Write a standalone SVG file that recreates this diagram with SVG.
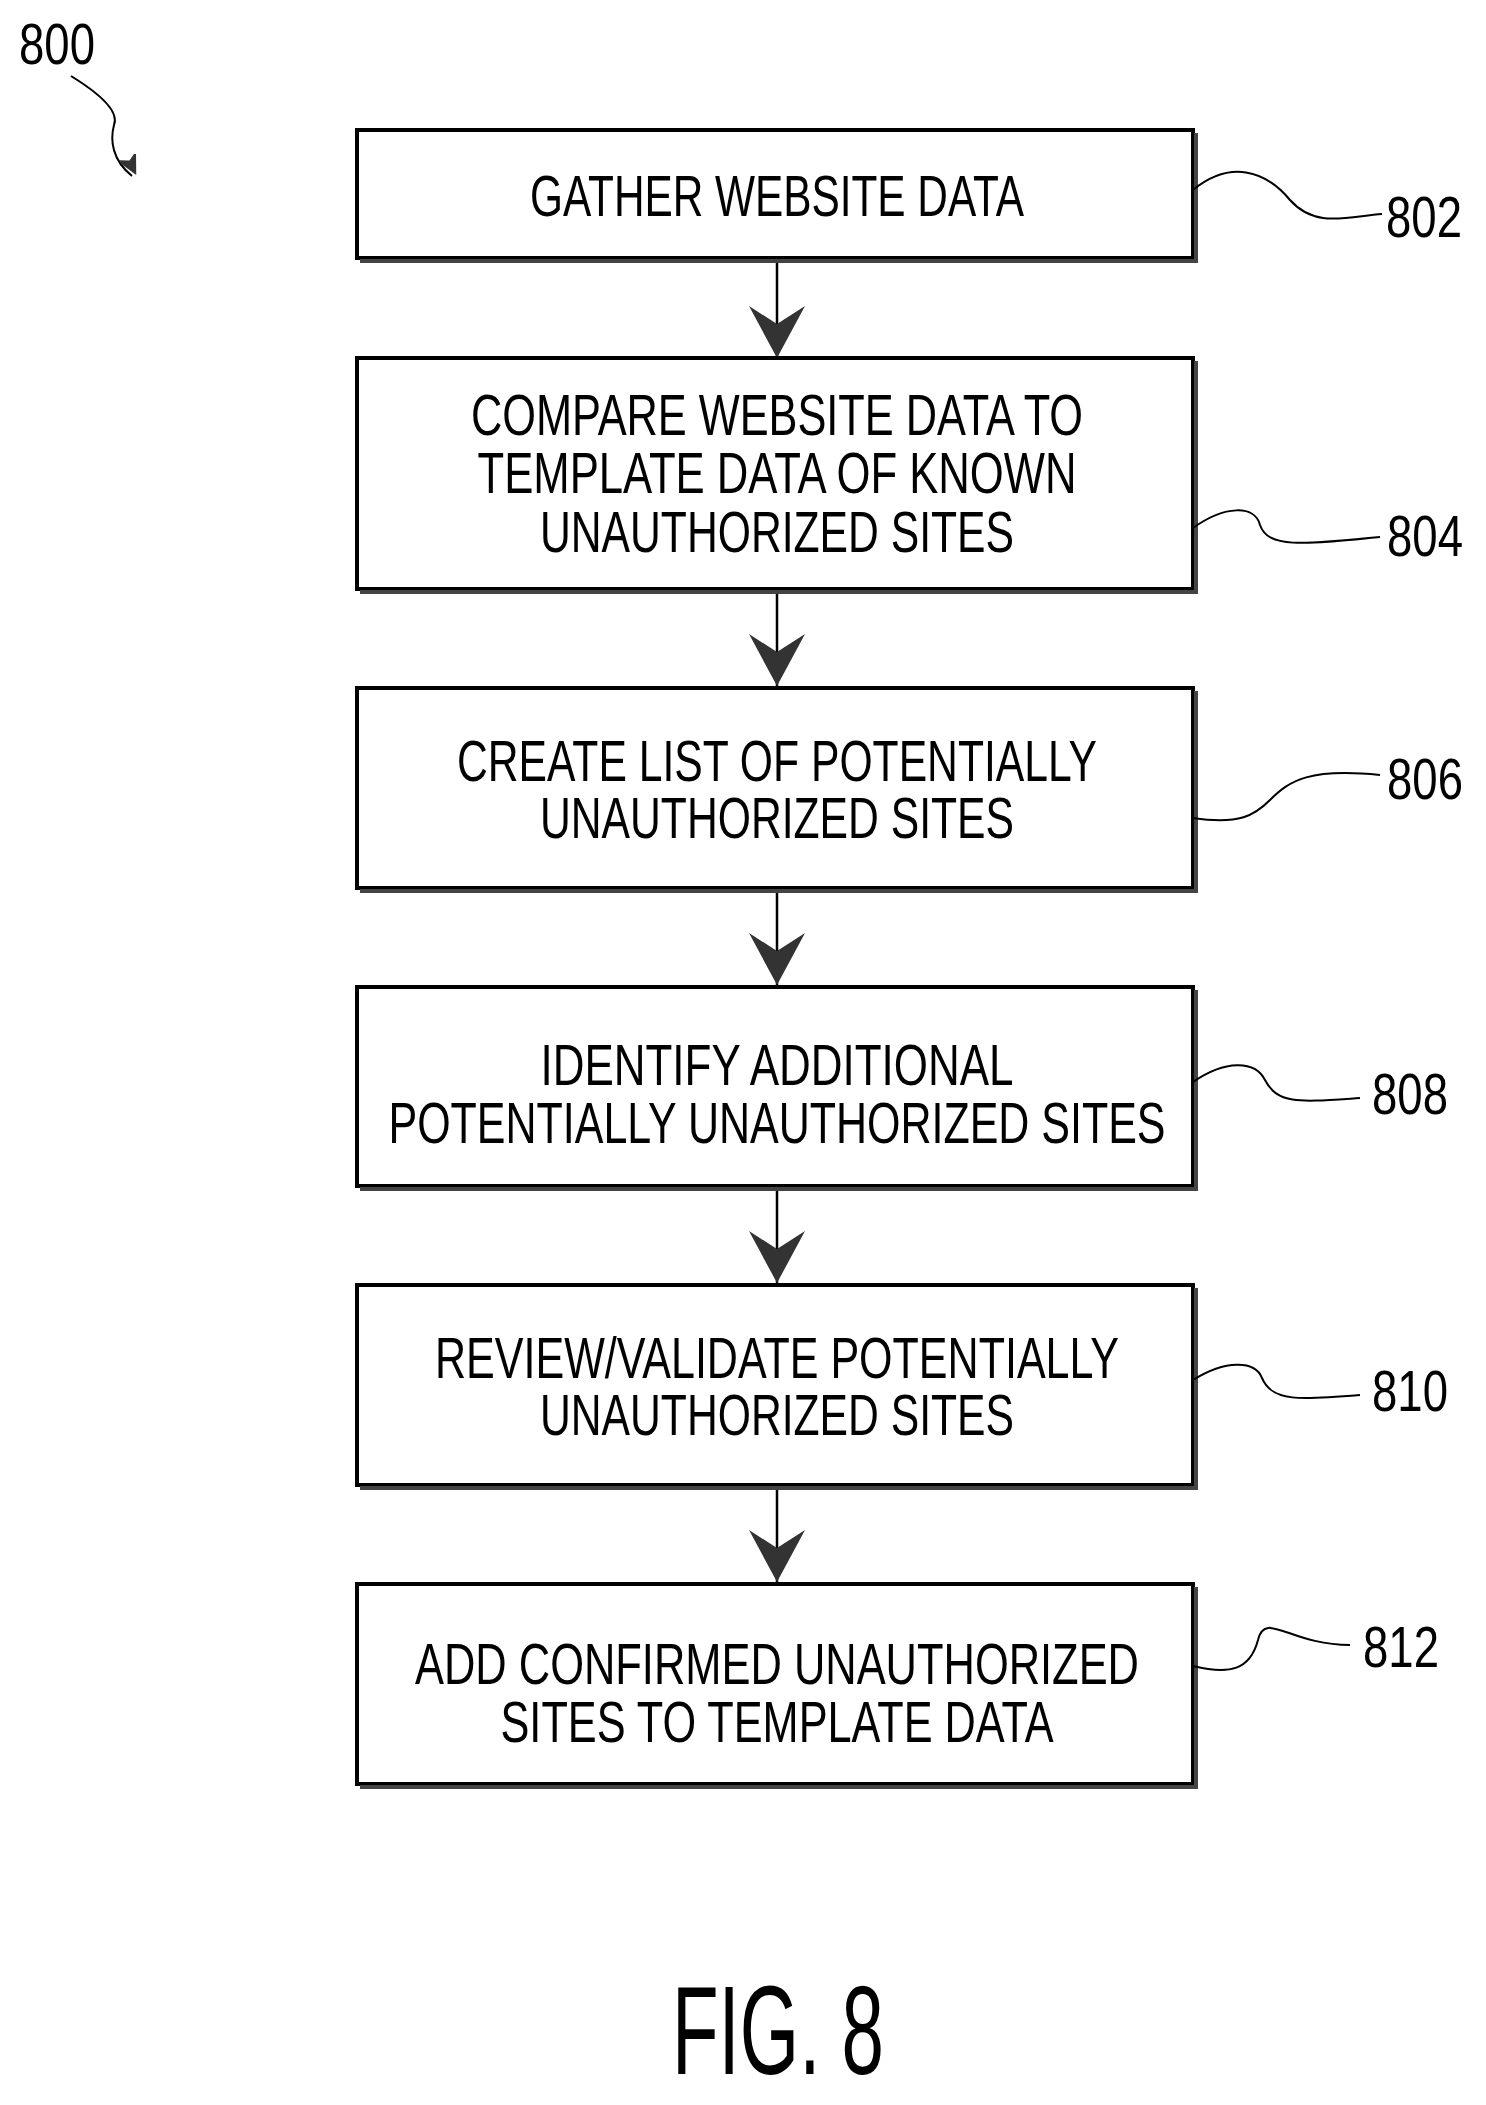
<svg xmlns="http://www.w3.org/2000/svg" width="1486" height="2105" viewBox="0 0 1486 2105">
<style>
.box{fill:#fff;stroke:#000;stroke-width:4}
.sh{fill:none;stroke:#444;stroke-width:4}
.t{font-family:"Liberation Sans",Arial,sans-serif;font-size:58px;text-anchor:middle;fill:#000}
.l{font-family:"Liberation Sans",Arial,sans-serif;font-size:58px;fill:#000}
.ld{fill:none;stroke:#000;stroke-width:2}
.c{stroke:#000;stroke-width:2.5}
</style>
<defs>
<marker id="ah" markerUnits="userSpaceOnUse" markerWidth="60" markerHeight="56" refX="28" refY="52" orient="0">
<path d="M0,0 L28,18 L56,0 L28,52 Z" fill="#333"/>
</marker>
<marker id="ah2" markerUnits="userSpaceOnUse" markerWidth="24" markerHeight="24" refX="12" refY="22" orient="0">
<path d="M0,0 L12,6 L22,0 L12,22 Z" fill="#333" transform="rotate(-25 12 12)"/>
</marker>
</defs>
<rect width="1486" height="2105" fill="#fff"/>
<text class="l" x="19" y="64" textLength="76" lengthAdjust="spacingAndGlyphs">800</text>
<path class="ld" d="M71,76 C110,100 118,115 114,125 C110,140 112,160 132,176" marker-end="url(#ah2)"/>
<g id="connectors">
<line class="c" x1="777" y1="260" x2="777" y2="358" marker-end="url(#ah)"/>
<line class="c" x1="777" y1="591" x2="777" y2="686" marker-end="url(#ah)"/>
<line class="c" x1="777" y1="890" x2="777" y2="985" marker-end="url(#ah)"/>
<line class="c" x1="777" y1="1188" x2="777" y2="1283" marker-end="url(#ah)"/>
<line class="c" x1="777" y1="1487" x2="777" y2="1582" marker-end="url(#ah)"/>
</g>
<g id="n802">
<rect class="box" x="357" y="130" width="836" height="128"/>
<path class="sh" d="M360,261 H1196 V133"/>
<text class="t" x="777" y="216" textLength="494" lengthAdjust="spacingAndGlyphs">GATHER WEBSITE DATA</text>
<path class="ld" d="M1193,190 C1230,160 1265,170 1290,200 C1315,228 1345,217 1382,214"/>
<text class="l" x="1386" y="237" textLength="76" lengthAdjust="spacingAndGlyphs">802</text>
</g>
<g id="n804">
<rect class="box" x="357" y="358" width="836" height="231"/>
<path class="sh" d="M360,592 H1196 V361"/>
<text class="t" x="777" y="435" textLength="612" lengthAdjust="spacingAndGlyphs">COMPARE WEBSITE DATA TO</text>
<text class="t" x="777" y="493" textLength="599" lengthAdjust="spacingAndGlyphs">TEMPLATE DATA OF KNOWN</text>
<text class="t" x="777" y="552" textLength="474" lengthAdjust="spacingAndGlyphs">UNAUTHORIZED SITES</text>
<path class="ld" d="M1193,528 C1225,505 1255,505 1260,525 C1268,548 1300,545 1380,537"/>
<text class="l" x="1387" y="556" textLength="76" lengthAdjust="spacingAndGlyphs">804</text>
</g>
<g id="n806">
<rect class="box" x="357" y="688" width="836" height="200"/>
<path class="sh" d="M360,891 H1196 V691"/>
<text class="t" x="777" y="781" textLength="640" lengthAdjust="spacingAndGlyphs">CREATE LIST OF POTENTIALLY</text>
<text class="t" x="777" y="838" textLength="474" lengthAdjust="spacingAndGlyphs">UNAUTHORIZED SITES</text>
<path class="ld" d="M1193,818 C1240,825 1255,815 1270,800 C1290,780 1310,768 1380,775"/>
<text class="l" x="1387" y="799" textLength="76" lengthAdjust="spacingAndGlyphs">806</text>
</g>
<g id="n808">
<rect class="box" x="357" y="987" width="836" height="199"/>
<path class="sh" d="M360,1189 H1196 V990"/>
<text class="t" x="777" y="1085" textLength="473" lengthAdjust="spacingAndGlyphs">IDENTIFY ADDITIONAL</text>
<text class="t" x="777" y="1143" textLength="777" lengthAdjust="spacingAndGlyphs">POTENTIALLY UNAUTHORIZED SITES</text>
<path class="ld" d="M1193,1082 C1225,1060 1255,1060 1265,1080 C1278,1105 1300,1102 1360,1098"/>
<text class="l" x="1372" y="1114" textLength="76" lengthAdjust="spacingAndGlyphs">808</text>
</g>
<g id="n810">
<rect class="box" x="357" y="1285" width="836" height="200"/>
<path class="sh" d="M360,1488 H1196 V1288"/>
<text class="t" x="777" y="1378" textLength="684" lengthAdjust="spacingAndGlyphs">REVIEW/VALIDATE POTENTIALLY</text>
<text class="t" x="777" y="1435" textLength="474" lengthAdjust="spacingAndGlyphs">UNAUTHORIZED SITES</text>
<path class="ld" d="M1193,1380 C1225,1360 1255,1360 1262,1378 C1272,1402 1300,1400 1360,1395"/>
<text class="l" x="1372" y="1411" textLength="76" lengthAdjust="spacingAndGlyphs">810</text>
</g>
<g id="n812">
<rect class="box" x="357" y="1584" width="836" height="200"/>
<path class="sh" d="M360,1787 H1196 V1587"/>
<text class="t" x="777" y="1684" textLength="724" lengthAdjust="spacingAndGlyphs">ADD CONFIRMED UNAUTHORIZED</text>
<text class="t" x="777" y="1742" textLength="553" lengthAdjust="spacingAndGlyphs">SITES TO TEMPLATE DATA</text>
<path class="ld" d="M1193,1666 C1230,1675 1250,1670 1258,1640 C1265,1610 1290,1645 1350,1645" transform="translate(0,0)"/>
<text class="l" x="1363" y="1667" textLength="76" lengthAdjust="spacingAndGlyphs">812</text>
</g>
<text class="l" x="672" y="2074" style="font-size:127px" textLength="212" lengthAdjust="spacingAndGlyphs">FIG. 8</text>
</svg>
